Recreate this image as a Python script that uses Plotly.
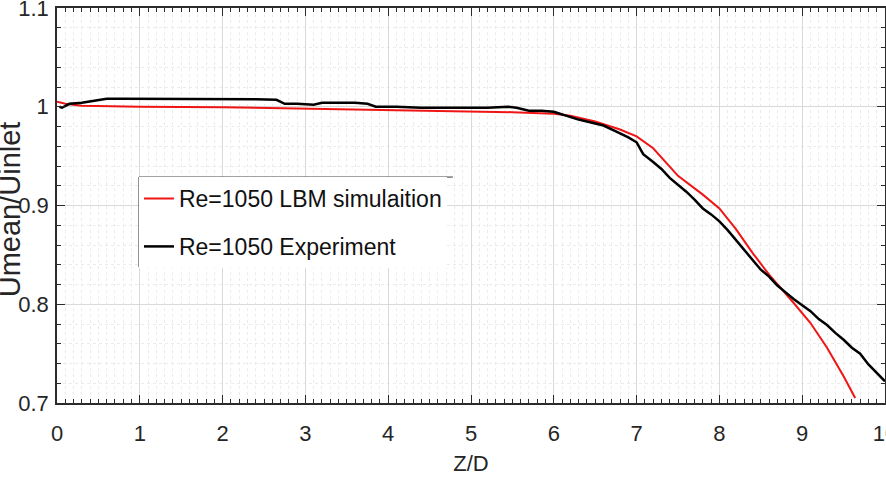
import plotly.graph_objects as go

# LBM simulation (red)
lbm_x = [0, 0.1, 0.3, 0.6, 1.0, 2.0, 3.0, 4.0, 5.0, 5.5, 6.0, 6.2, 6.5, 6.8, 7.0, 7.2,
         7.5, 7.8, 8.0, 8.2, 8.4, 8.6, 8.9, 9.1, 9.3, 9.5, 9.64]
lbm_y = [1.005, 1.003, 1.001, 1.0005, 1.0, 0.9995, 0.998, 0.997, 0.9955, 0.9945, 0.993,
         0.991, 0.985, 0.977, 0.970, 0.958, 0.930, 0.911, 0.897, 0.876, 0.852, 0.830,
         0.801, 0.781, 0.756, 0.727, 0.705]

# Experiment (black)
exp_x = [0.03, 0.06, 0.15, 0.3, 0.45, 0.6, 0.8, 1.2, 1.6, 2.0, 2.4, 2.65, 2.75, 2.9, 3.1,
         3.2, 3.4, 3.6, 3.75, 3.85, 4.1, 4.4, 4.8, 5.2, 5.45, 5.55, 5.7, 5.85, 6.0, 6.15,
         6.3, 6.45, 6.6, 6.75, 6.9, 7.0, 7.08, 7.2, 7.3, 7.4, 7.5, 7.6, 7.7, 7.8, 7.9,
         8.0, 8.1, 8.2, 8.3, 8.4, 8.5, 8.6, 8.7, 8.8, 8.9, 9.0, 9.1, 9.2, 9.3, 9.4, 9.5,
         9.6, 9.7, 9.8, 9.9, 10.0]
exp_y = [1.0, 0.999, 1.003, 1.004, 1.006, 1.008, 1.008, 1.008, 1.008, 1.0075, 1.0075,
         1.007, 1.003, 1.003, 1.002, 1.004, 1.004, 1.004, 1.003, 1.0, 1.0, 0.999, 0.999,
         0.999, 1.0, 0.999, 0.996, 0.996, 0.995, 0.991, 0.987, 0.984, 0.981, 0.975, 0.969,
         0.964, 0.952, 0.944, 0.937, 0.928, 0.921, 0.914, 0.906, 0.897, 0.891, 0.884,
         0.875, 0.865, 0.855, 0.846, 0.835, 0.828, 0.819, 0.812, 0.805, 0.799, 0.793,
         0.785, 0.779, 0.771, 0.764, 0.756, 0.750, 0.739, 0.731, 0.722]

x_ticks = [0, 1, 2, 3, 4, 5, 6, 7, 8, 9, 10]
x_tick_text = ["0", "1", "2", "3", "4", "5", "6", "7", "8", "9", "10"]
y_ticks = [0.7, 0.8, 0.9, 1.0, 1.1]
y_tick_text = ["0.7", "0.8", "0.9", "1", "1.1"]

FONT = "Liberation Sans, Arial, sans-serif"
TXT = "#262626"

fig = go.Figure()
fig.add_trace(go.Scatter(x=lbm_x, y=lbm_y, mode="lines", name="Re=1050 LBM simulaition",
                         line=dict(color="#f01515", width=2), legendgroup="a"))
fig.add_trace(go.Scatter(x=exp_x, y=exp_y, mode="lines", name="Re=1050 Experiment",
                         line=dict(color="#000000", width=2.5), legendgroup="b"))

axis_common = dict(
    showline=True, linecolor="#2b2b2b", linewidth=1.5, mirror="allticks",
    ticks="inside", ticklen=8, tickcolor="#2b2b2b", tickwidth=1,
    showgrid=True, gridcolor="#d9d9d9", gridwidth=1,
    zeroline=False, ticklabeloverflow="allow",
    tickfont=dict(family=FONT, size=22, color=TXT),
)

fig.update_xaxes(
    range=[0, 10], tickmode="array", tickvals=x_ticks, ticktext=x_tick_text,
    ticklabelstandoff=10,
    minor=dict(dtick=0.1, ticks="inside", ticklen=4, tickcolor="#2b2b2b",
               showgrid=True, gridcolor="#ebebeb", griddash="dot", gridwidth=1),
    title=dict(text="Z/D", font=dict(family=FONT, size=22, color=TXT), standoff=10),
    **axis_common,
)
fig.update_yaxes(
    range=[0.7, 1.1], tickmode="array", tickvals=y_ticks, ticktext=y_tick_text,
    ticklabelstandoff=2,
    minor=dict(dtick=0.02, ticks="inside", ticklen=4, tickcolor="#2b2b2b",
               showgrid=True, gridcolor="#ebebeb", griddash="dot", gridwidth=1),
    **axis_common,
)

fig.update_layout(
    width=886, height=485,
    margin=dict(l=57, r=1, t=8, b=82, autoexpand=False),
    plot_bgcolor="white", paper_bgcolor="white",
    legend=dict(x=0.099, y=0.572, xanchor="left", yanchor="top",
                bgcolor="white", borderwidth=0, traceorder="grouped", tracegroupgap=15,
                font=dict(family=FONT, size=23, color="#111111"),
                itemwidth=30),
    annotations=[
        dict(text="Umean/Uinlet", textangle=-90, xref="paper", yref="paper",
             x=-0.034, y=0.49, xanchor="right", yanchor="middle", showarrow=False,
             font=dict(family=FONT, size=29, color=TXT)),
    ],
    shapes=[
        dict(type="line", xref="paper", yref="paper", x0=0.099, x1=0.478, y0=0.572, y1=0.572,
             line=dict(color="#333333", width=1)),
        dict(type="line", xref="paper", yref="paper", x0=0.099, x1=0.099, y0=0.572, y1=0.344,
             line=dict(color="#333333", width=1)),
    ],
)

fig.write_html("out.html")
